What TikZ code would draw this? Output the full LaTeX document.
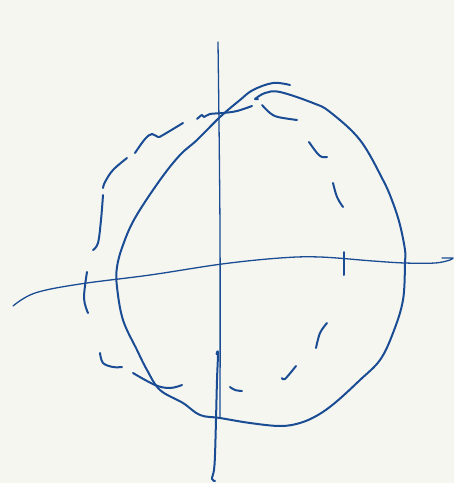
\documentclass[tikz,border=0pt]{standalone}
\usepackage{xcolor}
\definecolor{ink}{HTML}{1A4C94}
\definecolor{paper}{HTML}{F6F6F1}
\begin{document}
\begin{tikzpicture}[x=1pt,y=-1pt,
  axis/.style={draw=ink, line width=1.3pt, line cap=round, line join=round},
  pen/.style={draw=ink, line width=2pt, line cap=round, line join=round},
  sm/.style={smooth, tension=0.6}]
\fill[paper] (0,0) rectangle (454,483);
\useasboundingbox (0,0) rectangle (454,483);
% vertical axis
\draw[axis] plot[sm] coordinates {(218,42) (220,230) (220,418)};
\draw[pen] plot[sm] coordinates {(216.5,354) (218,353) (217,380) (216,420) (215,455) (214,470) (212,479) (215,481)};
% horizontal axis
\draw[axis] plot[sm] coordinates {(13,306) (35,293) (80,284) (150,275) (222,264) (280,258) (320,257) (373,261) (405,263) (435,263) (450,260) (453,258)} -- (442,258);
\draw[pen] (344,252) -- (344,275);
% solid circle
\draw[pen] plot[sm] coordinates {(290,85) (273,83) (253,90) (240,100) (220,117) (197,140) (180,155) (160,180) (135,218) (123,245) (117,267) (117,287) (123,320) (137,350) (147,370) (160,390) (183,403) (200,415) (220,418) (250,423) (280,426) (300,423) (318,415) (336,402) (360,380) (380,360) (393,333) (403,300) (405,263) (405,250) (400,225) (393,203) (383,180) (360,140) (330,112) (313,103) (280,92) (265,93) (255,99)} -- (258,99);
% dashed circle
\draw[pen] plot[sm] coordinates {(197,119) (202,115) (204,117) (210,114) (223,113) (237,111) (252,106)};
\draw[pen] plot[sm] coordinates {(262,105) (270,113) (278,117) (297,120)};
\draw[pen] plot[sm] coordinates {(309,142) (317,153) (322,157) (327,157)};
\draw[pen] plot[sm] coordinates {(333,183) (337,197) (343,207)};
\draw[pen] plot[sm] coordinates {(183,123) (163,135) (158,137) (152,134) (145,139) (135,153)};
\draw[pen] plot[sm] coordinates {(127,158) (113,170) (105,182) (103,188)};
\draw[pen] plot[sm] coordinates {(103,195) (101,220) (98,243) (93,250)};
\draw[pen] plot[sm] coordinates {(87,272) (84,298) (88,313)};
\draw[pen] plot[sm] coordinates {(100,353) (103,363) (113,367) (122,367)};
\draw[pen] plot[sm] coordinates {(133,373) (155,385) (170,388) (182,385)};
\draw[pen] plot[sm] coordinates {(230,387) (235,390) (242,391)};
\draw[pen] plot[sm] coordinates {(282,378) (285,379) (296,366)};
\draw[pen] plot[sm] coordinates {(316,348) (320,333) (327,323)};
\end{tikzpicture}
\end{document}
